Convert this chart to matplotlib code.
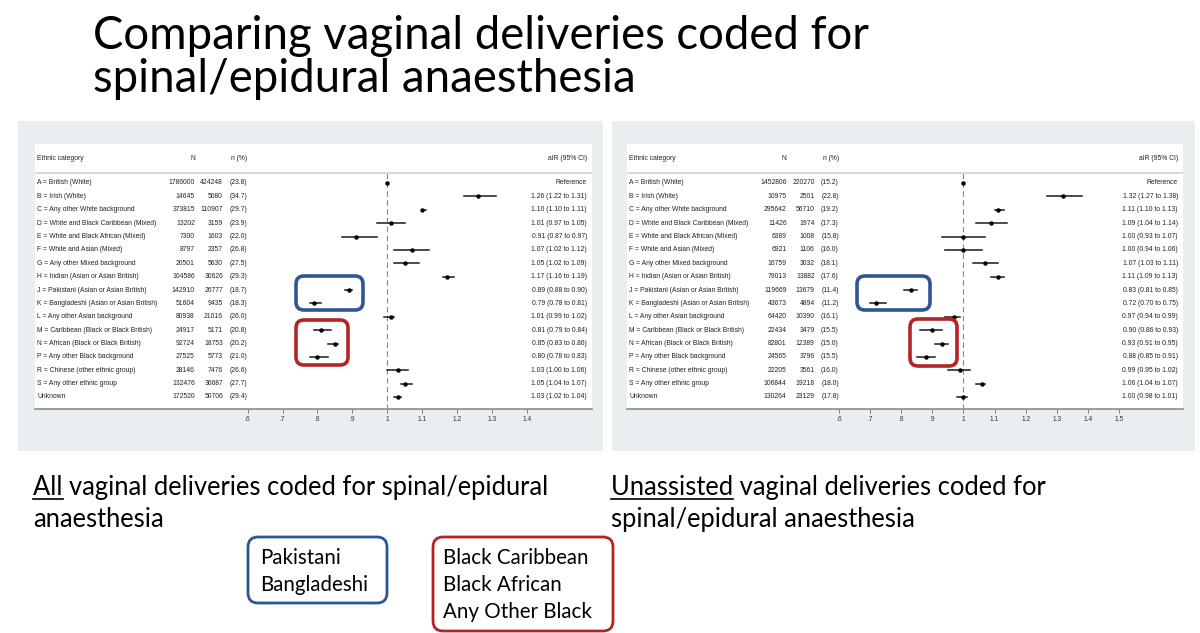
import matplotlib
matplotlib.use("Agg")
import matplotlib.pyplot as plt
from matplotlib.patches import FancyBboxPatch, Rectangle

# ---------------- data ----------------
categories = [
    "A = British (White)", "B = Irish (White)", "C = Any other White background",
    "D = White and Black Caribbean (Mixed)", "E = White and Black African (Mixed)",
    "F = White and Asian (Mixed)", "G = Any other Mixed background",
    "H = Indian (Asian or Asian British)", "J = Pakistani (Asian or Asian British)",
    "K = Bangladeshi (Asian or Asian British)", "L = Any other Asian background",
    "M = Caribbean (Black or Black British)", "N = African (Black or Black British)",
    "P = Any other Black background", "R = Chinese (other ethnic group)",
    "S = Any other ethnic group", "Unknown",
]

# All vaginal deliveries
all_N = [1786000, 14645, 373815, 13202, 7300, 8797, 20501, 104586, 142910,
         51604, 80938, 24917, 92724, 27525, 28146, 132476, 172520]
all_n = [424248, 5080, 110907, 3159, 1603, 2357, 5630, 30626, 26777,
         9435, 21016, 5171, 18753, 5773, 7476, 36687, 50706]
all_pct = [23.8, 34.7, 29.7, 23.9, 22.0, 26.8, 27.5, 29.3, 18.7,
           18.3, 26.0, 20.8, 20.2, 21.0, 26.6, 27.7, 29.4]
all_air = [1.00, 1.26, 1.10, 1.01, 0.91, 1.07, 1.05, 1.17, 0.89,
           0.79, 1.01, 0.81, 0.85, 0.80, 1.03, 1.05, 1.03]
all_lo = [None, 1.22, 1.10, 0.97, 0.87, 1.02, 1.02, 1.16, 0.88,
          0.78, 0.99, 0.79, 0.83, 0.78, 1.00, 1.04, 1.02]
all_hi = [None, 1.31, 1.11, 1.05, 0.97, 1.12, 1.09, 1.19, 0.90,
          0.81, 1.02, 0.84, 0.86, 0.83, 1.06, 1.07, 1.04]
all_ticks = [0.6, 0.7, 0.8, 0.9, 1.0, 1.1, 1.2, 1.3, 1.4]

# Unassisted vaginal deliveries
una_N = [1452806, 10975, 295642, 11426, 6389, 6921, 16759, 79013, 119669,
         43673, 64420, 22434, 82801, 24565, 22205, 106844, 130264]
una_n = [220270, 2501, 56710, 1974, 1008, 1106, 3032, 13882, 13679,
         4894, 10390, 3479, 12389, 3796, 3561, 19218, 23129]
una_pct = [15.2, 22.8, 19.2, 17.3, 15.8, 16.0, 18.1, 17.6, 11.4,
           11.2, 16.1, 15.5, 15.0, 15.5, 16.0, 18.0, 17.8]
una_air = [1.00, 1.32, 1.11, 1.09, 1.00, 1.00, 1.07, 1.11, 0.83,
           0.72, 0.97, 0.90, 0.93, 0.88, 0.99, 1.06, 1.00]
una_lo = [None, 1.27, 1.10, 1.04, 0.93, 0.94, 1.03, 1.09, 0.81,
          0.70, 0.94, 0.86, 0.91, 0.85, 0.95, 1.04, 0.98]
una_hi = [None, 1.38, 1.13, 1.14, 1.07, 1.06, 1.11, 1.13, 0.85,
          0.75, 0.99, 0.93, 0.95, 0.91, 1.02, 1.07, 1.01]
una_ticks = [0.6, 0.7, 0.8, 0.9, 1.0, 1.1, 1.2, 1.3, 1.4, 1.5]

title_lines = ["Comparing vaginal deliveries coded for", "spinal/epidural anaesthesia"]
legend_blue = ["Pakistani", "Bangladeshi"]
legend_red = ["Black Caribbean", "Black African", "Any Other Black"]

# ---------------- layout ----------------
W, H = 1200, 633
fig = plt.figure(figsize=(12, 6.33), dpi=100)
fig.patch.set_facecolor("white")

BLUE = "#2f5597"
RED = "#b42424"
PANEL = "#e9eef1"
TFONT = ["Lato", "DejaVu Sans"]
SFONT = ["Liberation Sans", "DejaVu Sans"]
TS = 4.85

bg = fig.add_axes([0, 0, 1, 1])
bg.set_xlim(0, W); bg.set_ylim(H, 0); bg.axis("off")
bg.add_patch(Rectangle((18, 121), 585, 330, facecolor=PANEL, edgecolor="none"))
bg.add_patch(Rectangle((612, 121), 583, 330, facecolor=PANEL, edgecolor="none"))

nrows = len(categories)
row_px = 13.375
y_top = -(183 - 144) / row_px
y_bot = (nrows - 1) + (409 - 397) / row_px
y_head = -(183 - 158) / row_px
y_line = -(183 - 173) / row_px


def draw_panel(x0, x1, px_06, px_last, ticks, Ns, ns, pcts, air, lo, hi):
    y0, y1 = 144, 409
    ax = fig.add_axes([x0 / W, 1 - y1 / H, (x1 - x0) / W, (y1 - y0) / H])
    ax.set_facecolor("white")
    scale = (px_last - px_06) / (ticks[-1] - ticks[0])
    xmin = ticks[0] + (x0 - px_06) / scale
    xmax = ticks[0] + (x1 - px_06) / scale
    ax.set_xlim(xmin, xmax)
    ax.set_ylim(y_bot, y_top)
    for s in ["top", "left", "right"]:
        ax.spines[s].set_visible(False)
    ax.spines["bottom"].set_color("#8c8c8c")
    ax.spines["bottom"].set_linewidth(1.2)
    ax.set_yticks([])
    ax.set_xticks(ticks)
    ax.set_xticklabels([("%g" % t).lstrip("0") if t < 1 else "%g" % t for t in ticks],
                       fontsize=4.8, family=SFONT, color="#333333")
    ax.tick_params(axis="x", length=3, width=0.6, color="#666666", pad=2)

    tr = ax.get_yaxis_transform()
    kw = dict(fontsize=TS, family=SFONT, color="#222222", va="center", transform=tr)
    ax.text(0.0036, y_head, "Ethnic category", ha="left", **kw)
    ax.text(0.287, y_head, "N", ha="right", **kw)
    ax.text(0.381, y_head, "n (%)", ha="right", **kw)
    ax.text(0.991, y_head, "aIR (95% CI)", ha="right", **kw)
    ax.axhline(y_line, color="#d9d9d9", lw=1.5)
    ax.plot([1, 1], [y_line, y_bot], color="#c0706f", lw=0.8, ls=(0, (5, 3)), zorder=1)

    for i, cat in enumerate(categories):
        ax.text(0.0036, i, cat, ha="left", **kw)
        ax.text(0.287, i, str(Ns[i]), ha="right", **kw)
        ax.text(0.3375, i, str(ns[i]), ha="right", **kw)
        ax.text(0.381, i, "(%.1f)" % pcts[i], ha="right", **kw)
        if lo[i] is None:
            ax.text(0.991, i, "Reference", ha="right", **kw)
        else:
            ax.text(0.991, i, "%.2f (%.2f to %.2f)" % (air[i], lo[i], hi[i]), ha="right", **kw)
            ax.plot([lo[i], hi[i]], [i, i], color="#1a1a1a", lw=1.1, zorder=3)
        ax.plot([air[i]], [i], marker="o", ms=2.2, color="#000000", zorder=4)
    return ax


draw_panel(35, 592, 247.6, 527.0, all_ticks, all_N, all_n, all_pct, all_air, all_lo, all_hi)
draw_panel(627, 1183, 839.0, 1119.0, una_ticks, una_N, una_n, una_pct, una_air, una_lo, una_hi)

# ---------------- overlay: titles, boxes, legend ----------------
top = fig.add_axes([0, 0, 1, 1], facecolor="none")
top.set_xlim(0, W); top.set_ylim(H, 0); top.axis("off")

top.text(93, 49, title_lines[0], fontsize=32.8, family=TFONT, color="black", va="baseline")
top.text(93, 92, title_lines[1], fontsize=32.8, family=TFONT, color="black", va="baseline")


def rbox(x0, y0, x1, y1, color, lw, r=8):
    top.add_patch(FancyBboxPatch((x0, y0), x1 - x0, y1 - y0,
                                 boxstyle="round,pad=0,rounding_size=%g" % r,
                                 facecolor="none", edgecolor=color, lw=lw, zorder=5))


rbox(296, 276, 363, 310, BLUE, 2.6)
rbox(296, 320, 348, 365, RED, 2.6)
rbox(857, 276, 930, 310, BLUE, 2.6)
rbox(910, 319, 957, 366, RED, 2.6)

rbox(248, 537, 387, 603, BLUE, 2.0, r=10)
rbox(433, 537, 613, 631, RED, 2.0, r=10)
for k, t in enumerate(legend_blue):
    top.text(260, 564 + 27 * k, t, fontsize=14.8, family=TFONT, va="baseline")
for k, t in enumerate(legend_red):
    top.text(443, 564 + 27 * k, t, fontsize=14.8, family=TFONT, va="baseline")

# subtitles with underlined first word
fig.canvas.draw()
renderer = fig.canvas.get_renderer()
SUB = 18.4


def underlined(x, y, first, rest, line2):
    top.text(x, y, first + rest, fontsize=SUB, family=TFONT, va="baseline")
    m = top.text(x, y, first, fontsize=SUB, family=TFONT, va="baseline", alpha=0)
    bb = m.get_window_extent(renderer=renderer)
    inv = top.transData.inverted()
    (xa, _), (xb, _) = inv.transform([(bb.x0, bb.y0), (bb.x1, bb.y0)])
    top.plot([xa, xb], [y + 4, y + 4], color="black", lw=1.2)
    top.text(x, y + 32, line2, fontsize=SUB, family=TFONT, va="baseline")


underlined(33, 495, "All", " vaginal deliveries coded for spinal/epidural", "anaesthesia")
underlined(611, 495, "Unassisted", " vaginal deliveries coded for", "spinal/epidural anaesthesia")

fig.savefig("out.png", dpi=100, facecolor="white")
